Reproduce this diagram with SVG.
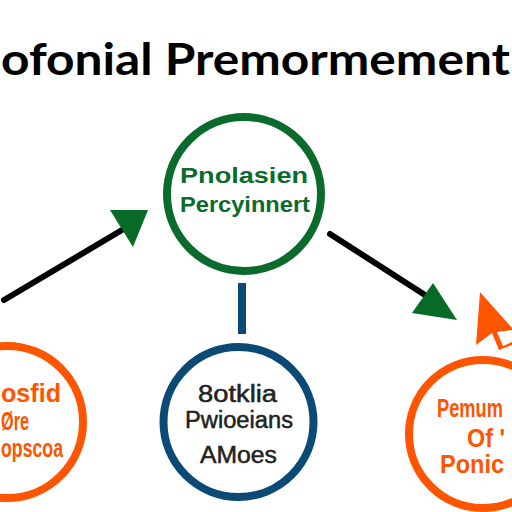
<svg xmlns="http://www.w3.org/2000/svg" width="512" height="512" viewBox="0 0 512 512">
<style>
.title{font-family:Lato,"Open Sans",sans-serif;font-weight:bold;font-size:43px;fill:#000}
.g{font-family:"Liberation Sans",Arial,sans-serif;font-weight:bold;font-size:22px;fill:#0b6b2c}
.b{font-family:"Liberation Sans",Arial,sans-serif;font-size:23px;fill:#222;stroke:#222;stroke-width:0.5}
.o{font-family:"Liberation Sans",Arial,sans-serif;font-weight:bold;font-size:25px;fill:#ff5500}
.ring{fill:#fff;stroke-width:8}
.conn{stroke:#000;stroke-width:6;stroke-linecap:round;fill:none}
</style>
<rect width="512" height="512" fill="#fff"/>
<text class="title" x="1" y="75" textLength="509" lengthAdjust="spacingAndGlyphs">ofonial Premormement</text>
<g id="connectors">
<line class="conn" x1="4" y1="300" x2="122" y2="230"/>
<polygon points="110,210 148,210 133,247" fill="#076a27"/>
<line class="conn" x1="330" y1="234" x2="425" y2="295"/>
<polygon points="433,283 412,313 457,320" fill="#076a27"/>
<line x1="242" y1="283" x2="242" y2="334" stroke="#0b4a75" stroke-width="8"/>
<polygon points="480,292 476,345 492,333 499,350 512,345 512,328" fill="#ff5500"/>
<polygon points="497,332 503,346 512,342 512,330" fill="#fff"/>
</g>
<g id="node-top">
<circle class="ring" cx="244" cy="194" r="77" stroke="#0b6b2c"/>
<text class="g" x="180" y="183" textLength="128" lengthAdjust="spacingAndGlyphs">Pnolasien</text>
<text class="g" x="180" y="212" textLength="130" lengthAdjust="spacingAndGlyphs">Percyinnert</text>
</g>
<g id="node-left">
<circle class="ring" cx="7" cy="422" r="76" stroke="#ff5500"/>
<text class="o" x="1" y="402" textLength="60" lengthAdjust="spacingAndGlyphs">osfid</text>
<text class="o" x="1" y="430" textLength="28" lengthAdjust="spacingAndGlyphs">Øre</text>
<text class="o" x="1" y="457" textLength="62" lengthAdjust="spacingAndGlyphs">opscoa</text>
</g>
<g id="node-bottom">
<circle class="ring" cx="238.5" cy="422" r="75" stroke="#0b4a75" stroke-width="7"/>
<text class="b" x="198" y="402" textLength="79" lengthAdjust="spacingAndGlyphs">8otklia</text>
<text class="b" x="185" y="428" textLength="108" lengthAdjust="spacingAndGlyphs">Pwioeians</text>
<text class="b" x="200" y="463" textLength="77" lengthAdjust="spacingAndGlyphs">AMoes</text>
</g>
<g id="node-right">
<circle class="ring" cx="483" cy="434" r="74" stroke="#ff5500"/>
<text class="o" transform="translate(437,417) scale(0.73,1)" x="0" y="0">Pemum</text>
<text class="o" x="467" y="447" textLength="38" lengthAdjust="spacingAndGlyphs">Of '</text>
<text class="o" x="440" y="473" textLength="64" lengthAdjust="spacingAndGlyphs">Ponic</text>
</g>
</svg>
